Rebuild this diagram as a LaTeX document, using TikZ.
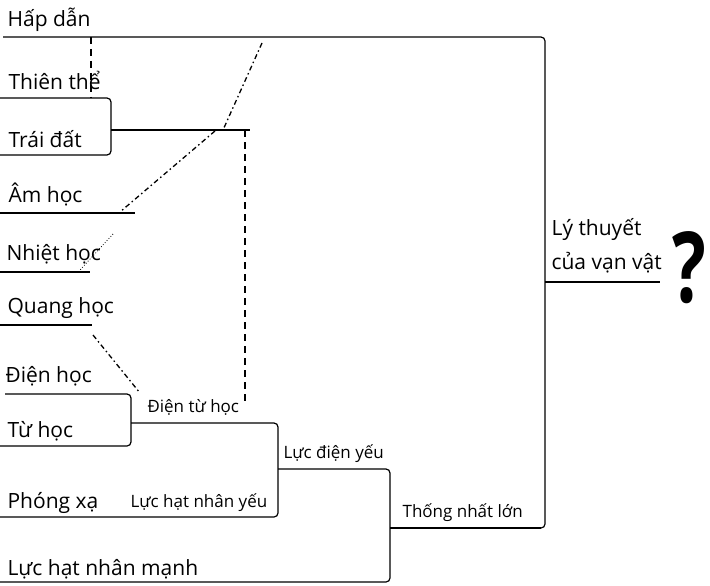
\documentclass[tikz,border=0pt]{standalone}
\usepackage{fontspec}
\setmainfont{Open Sans}
\usetikzlibrary{positioning}

\begin{document}
\begin{tikzpicture}[
    x=1pt, y=-1pt,
    line width=1.2pt,
    branch/.style={rounded corners=4pt},
    big/.style={anchor=base west, inner sep=0pt, font=\fontsize{21}{25}\selectfont},
    small/.style={anchor=base west, inner sep=0pt, font=\fontsize{17}{20}\selectfont},
    link/.style={line width=1.3pt, dash pattern=on 5pt off 3pt on 1.5pt off 3pt},
    guide/.style={line width=1.2pt, dash pattern=on 7pt off 5pt}
]
    \useasboundingbox (0,0) rectangle (710,586);

    % Coordinates
    \coordinate (hd_l)  at (3, 37);
    \coordinate (hd_r)  at (545, 37);
    \coordinate (tn_b)  at (545, 528);
    \coordinate (tn_m)  at (541, 528);
    \coordinate (tn_l)  at (390, 528);
    \coordinate (lt_l)  at (545, 282);
    \coordinate (lt_r)  at (660, 282);

    \coordinate (tt_l)  at (0, 98);
    \coordinate (tt_r)  at (111, 98);
    \coordinate (td_r)  at (111, 155);
    \coordinate (td_l)  at (0, 155);
    \coordinate (tv_l)  at (111, 130);
    \coordinate (tv_r)  at (250, 130);

    \coordinate (ah_l)  at (0, 213);
    \coordinate (ah_r)  at (135, 213);
    \coordinate (nh_l)  at (0, 272);
    \coordinate (nh_r)  at (90, 272);
    \coordinate (qh_l)  at (0, 325);
    \coordinate (qh_r)  at (92, 325);

    \coordinate (dh_l)  at (5, 394);
    \coordinate (dh_r)  at (131, 394);
    \coordinate (th_r)  at (131, 446);
    \coordinate (th_l)  at (0, 446);
    \coordinate (dt_l)  at (131, 423);
    \coordinate (dt_r)  at (278, 423);
    \coordinate (px_r)  at (278, 517);
    \coordinate (px_l)  at (0, 517);
    \coordinate (dy_l)  at (278, 469);
    \coordinate (dy_r)  at (390, 469);
    \coordinate (mn_r)  at (390, 582);
    \coordinate (mn_l)  at (0, 582);

    % Ends of the dashed links
    \coordinate (g1_t) at (91, 37);
    \coordinate (g1_b) at (91, 98);
    \coordinate (g2_t) at (245, 130);
    \coordinate (g2_b) at (245, 405);
    \coordinate (l1_t) at (262, 43);
    \coordinate (l1_b) at (223, 130);
    \coordinate (l2_t) at (215, 131);
    \coordinate (l2_b) at (120, 212);
    \coordinate (l3_t) at (113, 234);
    \coordinate (l3_b) at (80, 270);
    \coordinate (l4_t) at (93, 335);
    \coordinate (l4_b) at (140, 393);

    % Brackets
    \draw[branch] (hd_l) -- (hd_r) -- (tn_b) -- (tn_l);
    \draw[line width=2pt] (tn_l) -- (tn_m);
    \draw (lt_l) -- (lt_r);
    \draw[branch] (tt_l) -- (tt_r) -- (td_r) -- (td_l);
    \draw (tv_l) -- (tv_r);
    \draw[branch] (dh_l) -- (dh_r) -- (th_r) -- (th_l);
    \draw[branch] (dt_l) -- (dt_r) -- (px_r) -- (px_l);
    \draw[branch] (dy_l) -- (dy_r) -- (mn_r) -- (mn_l);

    % Branches without a partner
    \draw[line width=2.4pt] (ah_l) -- (ah_r);
    \draw[line width=2.4pt] (nh_l) -- (nh_r);
    \draw (qh_l) -- (qh_r);

    % Links
    \draw[guide] (g1_t) -- (g1_b);
    \draw[guide] (g2_t) -- (g2_b);
    \draw[link] (l1_t) -- (l1_b);
    \draw[link] (l2_t) -- (l2_b);
    \draw[line width=0.8pt, dotted] (l3_t) -- (l3_b);
    \draw[link] (l4_t) -- (l4_b);

    % Labels
    \node[big] (hapdan)   at (7, 27)   {Hấp dẫn};
    \node[big] (thienthe) at (8, 90)   {Thiên thể};
    \node[big] (traidat)  at (8, 147)  {Trái đất};
    \node[big] (amhoc)    at (8, 202)  {Âm học};
    \node[big] (nhiethoc) at (6, 260)  {Nhiệt học};
    \node[big] (quanghoc) at (7, 313)  {Quang học};
    \node[big] (dienhoc)  at (5, 382)  {Điện học};
    \node[big] (tuhoc)    at (7, 437)  {Từ học};
    \node[big] (phongxa)  at (7, 508)  {Phóng xạ};
    \node[big] (manh)     at (7, 575)  {Lực hạt nhân mạnh};

    \node[small] (dientu)    at (147, 412) {Điện từ học};
    \node[small] (dienyeu)   at (283, 458) {Lực điện yếu};
    \node[small] (hnyeu)     at (130, 507) {Lực hạt nhân yếu};
    \node[small] (thongnhat) at (402, 517) {Thống nhất lớn};

    \node[big] (lythuyet) at (551, 235) {Lý thuyết};
    \node[big] (vanvat)   at (551, 269) {của vạn vật};
    \node[inner sep=0pt, font=\fontsize{98}{100}\selectfont\bfseries] (hoi) at (689, 268) {\scalebox{0.72}[1]{?}};

\end{tikzpicture}
\end{document}
